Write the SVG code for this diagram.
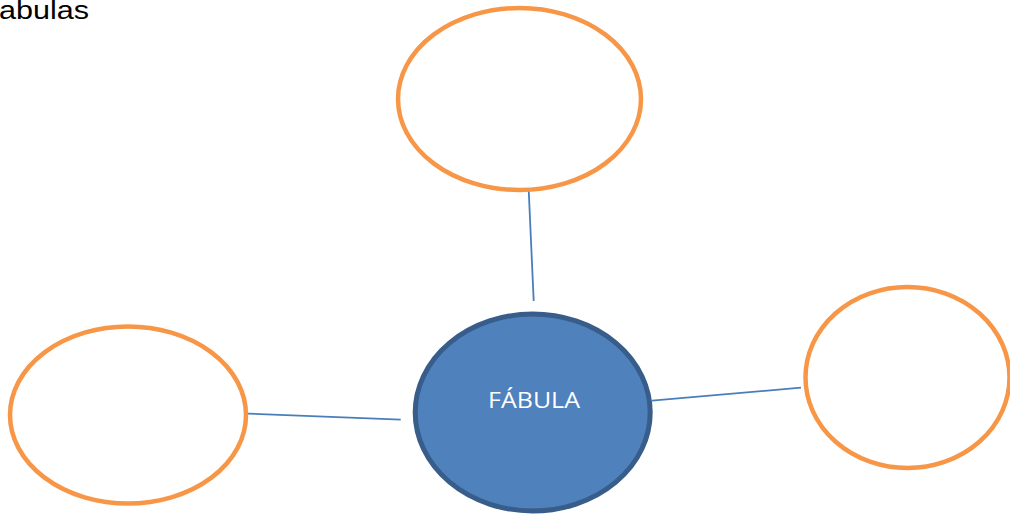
<svg xmlns="http://www.w3.org/2000/svg" width="1010" height="514" viewBox="0 0 1010 514">
  <style>
    .leaf { fill: #FFFFFF; stroke: #F79646; stroke-width: 4.5; }
    .hub { fill: #4F81BD; stroke: #385D8A; stroke-width: 5; }
    .conn { stroke: #4A7EBB; stroke-width: 1.8; fill: none; }
    .hubtext { font-family: "Open Sans", "Liberation Sans", sans-serif; font-size: 22px; fill: #FFFFFF; }
    .title { font-family: "Liberation Sans", Arial, sans-serif; font-size: 25px; fill: #000000; }
  </style>
  <rect x="0" y="0" width="1010" height="514" fill="#FFFFFF"/>
  <text class="title" x="-1" y="18.5" textLength="90" lengthAdjust="spacingAndGlyphs">abulas</text>
  <g id="connectors">
    <line class="conn" x1="528.7" y1="190" x2="533.7" y2="301"/>
    <line class="conn" x1="241" y1="413.3" x2="400.7" y2="419.7"/>
    <line class="conn" x1="652" y1="400.6" x2="801" y2="387.7"/>
  </g>
  <g id="node-top">
    <ellipse class="leaf" cx="519.5" cy="99" rx="121.5" ry="91"/>
  </g>
  <g id="node-left">
    <ellipse class="leaf" cx="128" cy="415" rx="118" ry="88.5"/>
  </g>
  <g id="node-right">
    <ellipse class="leaf" cx="907.5" cy="377.5" rx="102" ry="90.5"/>
  </g>
  <g id="node-center">
    <ellipse class="hub" cx="532.7" cy="412.5" rx="117.5" ry="98.5"/>
    <text class="hubtext" x="488" y="407.7" textLength="92" lengthAdjust="spacingAndGlyphs">FÁBULA</text>
  </g>
</svg>
